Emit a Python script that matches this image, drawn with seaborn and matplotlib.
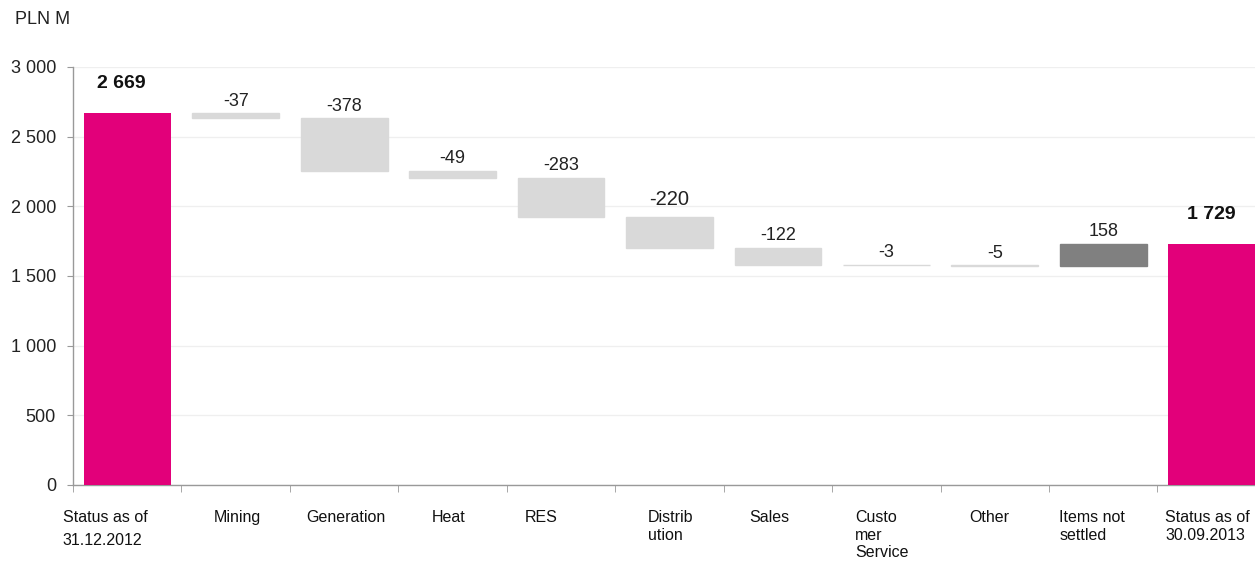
import numpy as np
import pandas as pd
import matplotlib.pyplot as plt
import seaborn as sns
from matplotlib.ticker import FuncFormatter, FixedLocator

# data (PLN M)
categories = ['Status as of\n31.12.2012', 'Mining', 'Generation', 'Heat', 'RES',
              'Distrib\nution', 'Sales', 'Custo\nmer\nService', 'Other',
              'Items not\nsettled', 'Status as of\n30.09.2013']
start_value = 2669
changes = [-37, -378, -49, -283, -220, -122, -3, -5, 158]
end_value = 1729

MAGENTA = '#E2007A'
LIGHT = '#D9D9D9'
DARK = '#808080'

# small horizontal nudges of the category labels (points), as in the source slide
label_dx = [-16, 1, 1, -3, -14, 1, -6, -3, -4, -8, -3]

sns.set_style('white')
plt.rcParams['font.family'] = ['Liberation Sans', 'DejaVu Sans']

# waterfall geometry from the values
levels = np.cumsum([start_value] + changes)
bottoms = [0]
heights = [start_value]
for prev, ch in zip(levels[:-1], changes):
    bottoms.append(min(prev, prev + ch))
    heights.append(abs(ch))
bottoms.append(0)
heights.append(end_value)
colors = [MAGENTA] + [LIGHT if c < 0 else DARK for c in changes] + [MAGENTA]

df = pd.DataFrame({'category': categories, 'height': heights, 'bottom': bottoms})

fig = plt.figure(figsize=(12.55, 5.61), dpi=100)
ax = fig.add_axes([0.0582, 0.1355, 0.9418, 0.7451])

sns.barplot(data=df, x='category', y='height', bottom=df['bottom'].to_numpy(),
            width=0.8, color=LIGHT, saturation=1, ax=ax, zorder=3)
for patch, c in zip(ax.patches, colors):
    patch.set_facecolor(c)
    if c == MAGENTA:
        patch.set_edgecolor('none')
    else:
        # keeps the tiny changes (-3, -5) visible as thin lines
        patch.set_edgecolor(c)
        patch.set_linewidth(1.0)

# value labels
labels = [f'{start_value:,}'.replace(',', ' ')] + [str(c) for c in changes] + \
         [f'{end_value:,}'.replace(',', ' ')]
for i, (lab, b, h) in enumerate(zip(labels, bottoms, heights)):
    top = b + h
    if i in (0, len(labels) - 1):
        ax.annotate(lab, (i, top), xytext=(-4 if i == 0 else 0, 15), textcoords='offset points',
                    ha='center', va='bottom', fontsize=14, fontweight='bold', color='#111111')
    elif changes[i - 1] == -220:
        ax.annotate(lab, (i, top), xytext=(0, 6), textcoords='offset points',
                    ha='center', va='bottom', fontsize=14.5, color='#222222')
    else:
        ax.annotate(lab, (i, top), xytext=(0, 2.5), textcoords='offset points',
                    ha='center', va='bottom', fontsize=13, color='#222222')

ax.set_xlim(-0.5, 10.4)
ax.set_ylim(0, 3000)
ax.set_yticks(np.arange(0, 3001, 500))
ax.yaxis.set_major_formatter(FuncFormatter(lambda v, p: f'{int(v):,}'.replace(',', ' ')))
ax.grid(axis='y', color='#EFEFEF', linewidth=0.9, zorder=0)
ax.set_axisbelow(True)
ax.set_xlabel('')
ax.set_ylabel('')

for side in ('top', 'right'):
    ax.spines[side].set_visible(False)
for side in ('left', 'bottom'):
    ax.spines[side].set_color('#999999')
    ax.spines[side].set_linewidth(1.0)

ax.tick_params(axis='y', direction='out', length=4.3, color='#999999', labelsize=13,
               labelcolor='#222222', pad=8, left=True)
ax.tick_params(axis='x', which='major', length=0, labelbottom=False)
ax.xaxis.set_minor_locator(FixedLocator(np.arange(-0.5, 10, 1.0)))
ax.tick_params(axis='x', which='minor', direction='out', length=5, color='#999999', bottom=True)

# category labels, left-aligned lines under each bar
for i, (cat, dx) in enumerate(zip(categories, label_dx)):
    ax.annotate(cat, xy=(i, 0), xycoords=('data', 'axes fraction'),
                xytext=(dx, -18), textcoords='offset points',
                ha='center', va='top', multialignment='left',
                linespacing=1.7 if i == 0 else 1.22, fontsize=11.5, color='#111111')

fig.text(0.012, 0.965, 'PLN M', fontsize=13, color='#222222', va='center', ha='left')

fig.savefig('out.png', dpi=100)
